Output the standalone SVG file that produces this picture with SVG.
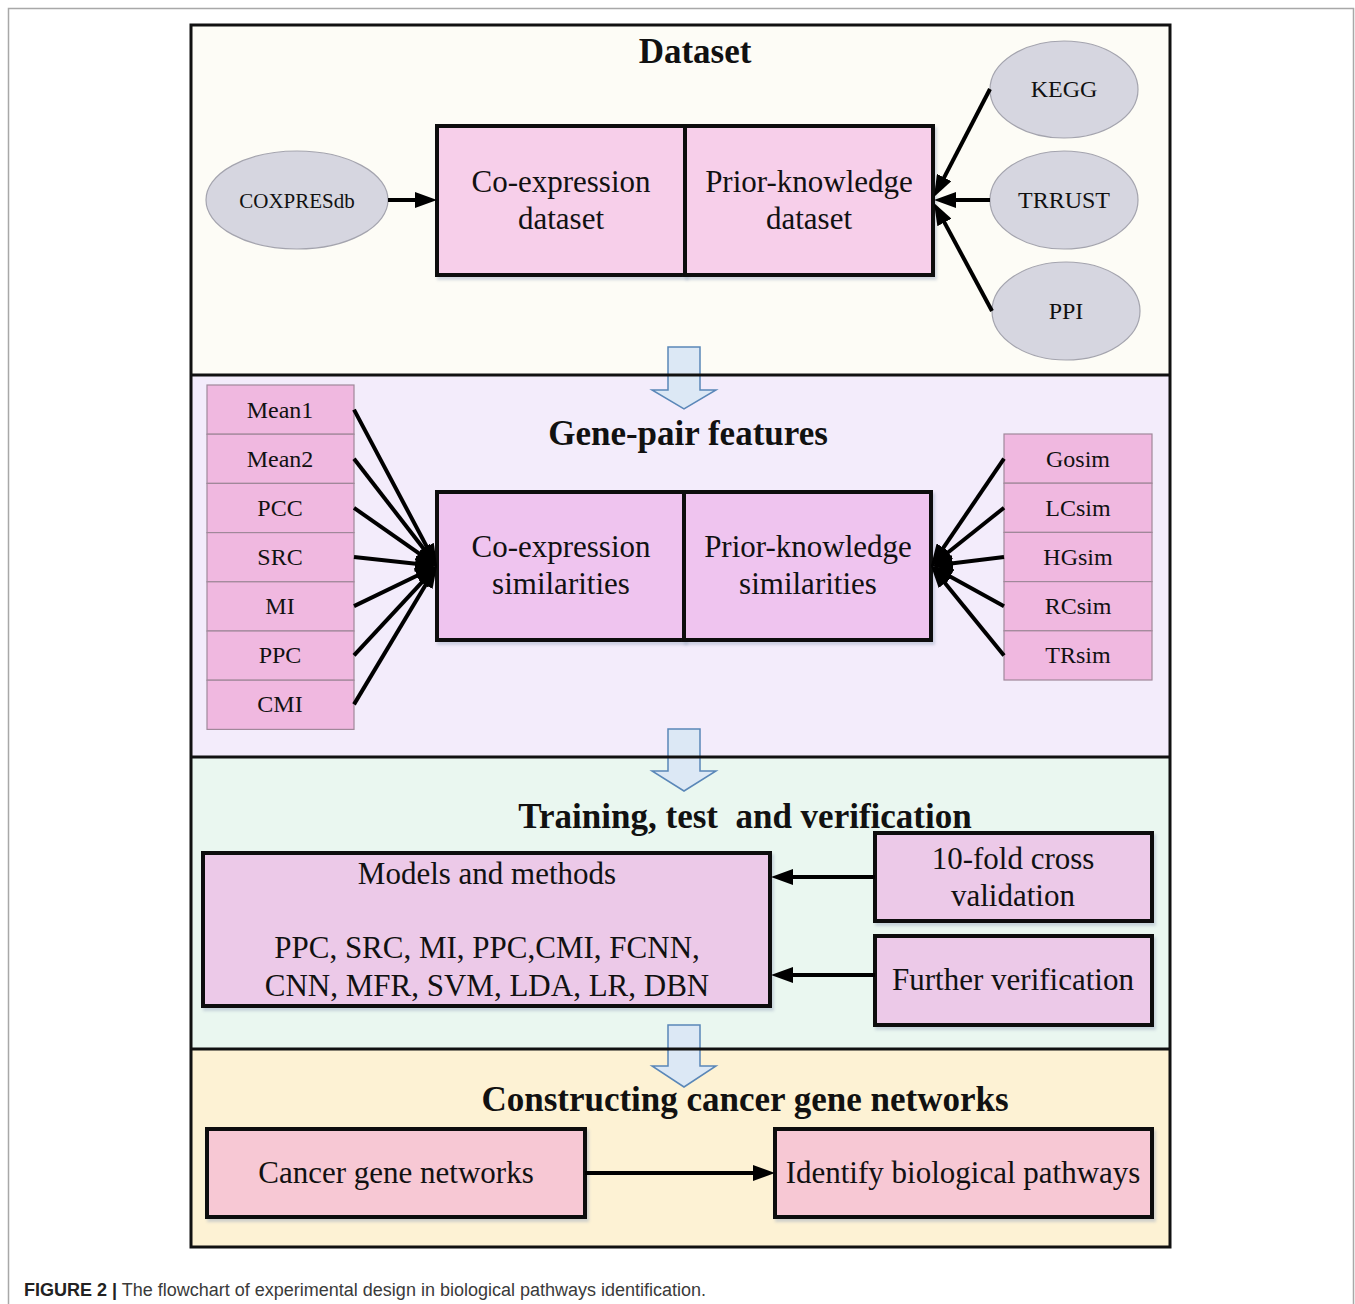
<svg xmlns="http://www.w3.org/2000/svg" width="1355" height="1304" viewBox="0 0 1355 1304">
<style>
.serif{font-family:"Liberation Serif","Times New Roman",serif;fill:#111}
.title{font-size:35px;font-weight:bold;text-anchor:middle}
.big{font-size:31px;text-anchor:middle}
.feat{font-size:24px;text-anchor:middle}
.ell{fill:#d6d6e0;stroke:#a4a4ae;stroke-width:1.2}
.box{stroke:#111;stroke-width:4}
.row{fill:#f0b8e0;stroke:#a0889a;stroke-width:1.2}
.blk{fill:#dce8f5;stroke:#5a87b8;stroke-width:1.5}
.con{stroke:#000;stroke-width:4;fill:none;marker-end:url(#ah)}
.cap{font-family:"Liberation Sans",Arial,sans-serif;font-size:18px;fill:#3a3a3a}
</style>
<defs>
<marker id="ah" viewBox="0 0 22 16" markerWidth="22" markerHeight="16" refX="10" refY="8" orient="auto" markerUnits="userSpaceOnUse">
<path d="M0,0 L22,8 L0,16 z" fill="#000"/>
</marker>
<filter id="sh" x="-5%" y="-5%" width="110%" height="115%">
<feDropShadow dx="2" dy="3" stdDeviation="1.5" flood-color="#9aa8c0" flood-opacity="0.45"/>
</filter>
</defs>
<rect width="1355" height="1304" fill="#fff"/>
<path d="M8.5,1304 V8.5 H1353.5 V1304" fill="none" stroke="#a8a8a8" stroke-width="1.5"/>

<g id="sections">
<rect x="191" y="25" width="979" height="350" fill="#fdfcf6"/>
<rect x="191" y="375" width="979" height="382" fill="#f3ecfb"/>
<rect x="191" y="757" width="979" height="292" fill="#eaf7f0"/>
<rect x="191" y="1049" width="979" height="198" fill="#fdf2d4"/>
</g>

<g id="flow-arrows">
<polygon class="blk" points="668,347 700,347 700,390 716,390 684,409 652,390 668,390"/>
<polygon class="blk" points="668,729 700,729 700,771 716,771 684,791 652,771 668,771"/>
<polygon class="blk" points="668,1025 700,1025 700,1066 716,1066 684,1087 652,1066 668,1066"/>
</g>

<g id="section-borders" fill="none" stroke="#111" stroke-width="3">
<rect x="191" y="25" width="979" height="1222"/>
<line x1="191" y1="375" x2="1170" y2="375"/>
<line x1="191" y1="757" x2="1170" y2="757"/>
<line x1="191" y1="1049" x2="1170" y2="1049"/>
</g>

<g class="serif">
<text class="title" x="695" y="63">Dataset</text>
<text class="title" x="688" y="445">Gene-pair features</text>
<text class="title" x="745" y="828" xml:space="preserve">Training, test  and verification</text>
<text class="title" x="745" y="1111">Constructing cancer gene networks</text>
</g>

<g id="coxpresdb">
<ellipse class="ell" cx="297" cy="200" rx="91" ry="49"/>
<text class="serif" x="297" y="208" font-size="21" text-anchor="middle">COXPRESdb</text>
</g>
<g id="kegg">
<ellipse class="ell" cx="1064" cy="89.5" rx="74" ry="48.5"/>
<text class="serif feat" x="1064" y="97">KEGG</text>
</g>
<g id="trrust">
<ellipse class="ell" cx="1064" cy="200" rx="74" ry="49"/>
<text class="serif feat" x="1064" y="208">TRRUST</text>
</g>
<g id="ppi">
<ellipse class="ell" cx="1066" cy="311" rx="74" ry="49"/>
<text class="serif feat" x="1066" y="319">PPI</text>
</g>

<g id="coexp-dataset">
<rect class="box" x="437" y="126" width="248" height="149" fill="#f7cfea" filter="url(#sh)"/>
<text class="serif big" x="561" y="192">Co-expression</text>
<text class="serif big" x="561" y="229">dataset</text>
</g>
<g id="prior-dataset">
<rect class="box" x="685" y="126" width="248" height="149" fill="#f7cfea" filter="url(#sh)"/>
<text class="serif big" x="809" y="192">Prior-knowledge</text>
<text class="serif big" x="809" y="229">dataset</text>
</g>

<g id="coexp-features" class="serif">
<rect class="row" x="207" y="385" width="147" height="49.2"/>
<rect class="row" x="207" y="434.2" width="147" height="49.2"/>
<rect class="row" x="207" y="483.4" width="147" height="49.2"/>
<rect class="row" x="207" y="532.6" width="147" height="49.2"/>
<rect class="row" x="207" y="581.8" width="147" height="49.2"/>
<rect class="row" x="207" y="631" width="147" height="49.2"/>
<rect class="row" x="207" y="680.2" width="147" height="49.2"/>
<text class="feat" x="280" y="418">Mean1</text>
<text class="feat" x="280" y="467">Mean2</text>
<text class="feat" x="280" y="516">PCC</text>
<text class="feat" x="280" y="565">SRC</text>
<text class="feat" x="280" y="614">MI</text>
<text class="feat" x="280" y="663">PPC</text>
<text class="feat" x="280" y="712">CMI</text>
</g>

<g id="prior-features" class="serif">
<rect class="row" x="1004" y="434" width="148" height="49.2"/>
<rect class="row" x="1004" y="483.2" width="148" height="49.2"/>
<rect class="row" x="1004" y="532.4" width="148" height="49.2"/>
<rect class="row" x="1004" y="581.6" width="148" height="49.2"/>
<rect class="row" x="1004" y="630.8" width="148" height="49.2"/>
<text class="feat" x="1078" y="467">Gosim</text>
<text class="feat" x="1078" y="516">LCsim</text>
<text class="feat" x="1078" y="565">HGsim</text>
<text class="feat" x="1078" y="614">RCsim</text>
<text class="feat" x="1078" y="663">TRsim</text>
</g>

<g id="coexp-sim">
<rect class="box" x="437" y="492" width="247" height="148" fill="#efc4ef" filter="url(#sh)"/>
<text class="serif big" x="561" y="557">Co-expression</text>
<text class="serif big" x="561" y="594">similarities</text>
</g>
<g id="prior-sim">
<rect class="box" x="684" y="492" width="247" height="148" fill="#efc4ef" filter="url(#sh)"/>
<text class="serif big" x="808" y="557">Prior-knowledge</text>
<text class="serif big" x="808" y="594">similarities</text>
</g>

<g id="models">
<rect class="box" x="203" y="853" width="567" height="153" fill="#ecc9e8" filter="url(#sh)"/>
<text class="serif big" x="487" y="884">Models and methods</text>
<text class="serif big" x="487" y="958">PPC, SRC, MI, PPC,CMI, FCNN,</text>
<text class="serif big" x="487" y="996">CNN, MFR, SVM, LDA, LR, DBN</text>
</g>
<g id="cross-validation">
<rect class="box" x="875" y="833" width="277" height="88" fill="#ecc9e8" filter="url(#sh)"/>
<text class="serif big" x="1013" y="869">10-fold cross</text>
<text class="serif big" x="1013" y="906">validation</text>
</g>
<g id="further-verification">
<rect class="box" x="875" y="936" width="277" height="89" fill="#ecc9e8" filter="url(#sh)"/>
<text class="serif big" x="1013" y="990">Further verification</text>
</g>

<g id="cancer-networks">
<rect class="box" x="207" y="1129" width="378" height="88" fill="#f7c8d4" filter="url(#sh)"/>
<text class="serif big" x="396" y="1183">Cancer gene networks</text>
</g>
<g id="identify-pathways">
<rect class="box" x="775" y="1129" width="377" height="88" fill="#f7c8d4" filter="url(#sh)"/>
<text class="serif big" x="963" y="1183">Identify biological pathways</text>
</g>

<g id="connectors">
<line class="con" x1="388" y1="200" x2="425" y2="200"/>
<line class="con" x1="990" y1="89" x2="939.5" y2="186.4"/>
<line class="con" x1="990" y1="200" x2="946" y2="200"/>
<line class="con" x1="992" y1="311" x2="939.7" y2="213.6"/>

<line class="con" x1="354" y1="409.6" x2="431.4" y2="555.4"/>
<line class="con" x1="354" y1="458.7" x2="429.7" y2="556.5"/>
<line class="con" x1="354" y1="507.9" x2="427.2" y2="559.1"/>
<line class="con" x1="354" y1="557" x2="425.1" y2="564.7"/>
<line class="con" x1="354" y1="606.1" x2="426.2" y2="571.2"/>
<line class="con" x1="354" y1="655.3" x2="428.8" y2="574.8"/>
<line class="con" x1="354" y1="704.4" x2="430.8" y2="576.3"/>

<line class="con" x1="1004" y1="458.6" x2="937.7" y2="556.1"/>
<line class="con" x1="1004" y1="507.8" x2="940.4" y2="558.5"/>
<line class="con" x1="1004" y1="557" x2="942.9" y2="564.5"/>
<line class="con" x1="1004" y1="606.2" x2="941.5" y2="571.8"/>
<line class="con" x1="1004" y1="655.4" x2="938.6" y2="575.3"/>

<line class="con" x1="875" y1="877" x2="783" y2="877"/>
<line class="con" x1="875" y1="975" x2="783" y2="975"/>
<line class="con" x1="585" y1="1173" x2="763" y2="1173"/>
</g>

<text class="cap" x="24" y="1296"><tspan font-weight="bold" fill="#222">FIGURE 2 |</tspan> The flowchart of experimental design in biological pathways identification.</text>
</svg>
